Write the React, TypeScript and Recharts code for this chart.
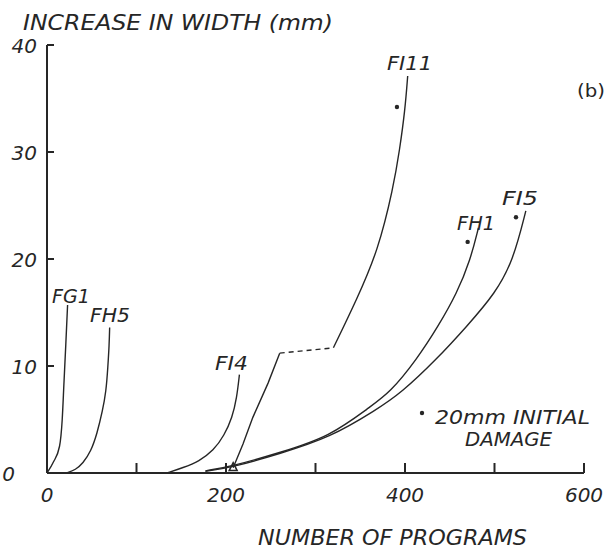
import { ComposedChart, Line, Scatter, XAxis, YAxis } from 'recharts'

// Crack width growth per specimen, x = number of programs, y = increase in width (mm)
const fg1 = [
  { x: 0, y: 0 }, { x: 7, y: 1 }, { x: 14, y: 2.5 }, { x: 17, y: 5 },
  { x: 19, y: 8.5 }, { x: 21, y: 12 }, { x: 23, y: 15.7 },
]
const fh5 = [
  { x: 22, y: 0 }, { x: 32, y: 0.3 }, { x: 40, y: 0.9 }, { x: 49, y: 2 },
  { x: 56, y: 3.7 }, { x: 62, y: 5.8 }, { x: 66, y: 7.6 }, { x: 68, y: 9.9 },
  { x: 69.5, y: 12 }, { x: 70, y: 13.6 },
]
const fi4 = [
  { x: 134, y: 0 }, { x: 152, y: 0.5 }, { x: 170, y: 1.1 }, { x: 186, y: 2.1 },
  { x: 198, y: 3.5 }, { x: 207, y: 5.2 }, { x: 212, y: 7 }, { x: 215, y: 9.2 },
]
// FI11 has a gap (dashed) between its two measured stretches
const fi11Lower = [
  { x: 208, y: 0.5 }, { x: 219, y: 2.7 }, { x: 230, y: 5.2 }, { x: 247, y: 8.4 }, { x: 260, y: 11.2 },
]
const fi11Gap = [{ x: 260, y: 11.2 }, { x: 320, y: 11.7 }]
const fi11Upper = [
  { x: 320, y: 11.7 }, { x: 346, y: 16.2 }, { x: 370, y: 20.8 }, { x: 387, y: 26.7 },
  { x: 394, y: 30.2 }, { x: 400, y: 33.9 }, { x: 403, y: 37.1 },
]
const fh1 = [
  { x: 177, y: 0.2 }, { x: 208, y: 0.65 }, { x: 260, y: 1.9 }, { x: 316, y: 3.4 },
  { x: 361, y: 6.2 }, { x: 383, y: 7.5 }, { x: 413, y: 10.6 }, { x: 437, y: 13.7 },
  { x: 458, y: 16.8 }, { x: 473, y: 19.9 }, { x: 482, y: 22.9 },
]
const fi5 = [
  { x: 177, y: 0.15 }, { x: 208, y: 0.55 }, { x: 260, y: 1.8 }, { x: 316, y: 3.3 },
  { x: 368, y: 5.9 }, { x: 396, y: 7.5 }, { x: 435, y: 10.6 }, { x: 469, y: 13.7 },
  { x: 501, y: 16.8 }, { x: 521, y: 19.9 }, { x: 535, y: 24.5 },
]
// specimens with 20mm initial damage
const initialDamage = [{ x: 391, y: 34.2 }, { x: 470, y: 21.6 }, { x: 524, y: 23.9 }]
const startMarker = [{ x: 208, y: 0.6 }]

const xTicks = [0, 100, 200, 300, 400, 500, 600]
const xLabelled = [0, 200, 400, 600]
const yTicks = [0, 10, 20, 30, 40]

const INK = '#262626'
const FONT = '"DejaVu Sans", sans-serif'

function XTick(props: any) {
  const { x, y, payload } = props
  return (
    <g>
      <line x1={x} y1={y} x2={x} y2={y - 10} stroke={INK} strokeWidth={2} />
      {xLabelled.includes(payload.value) && (
        <text x={x} y={y + 29} textAnchor="middle" fontFamily={FONT} fontStyle="italic" fontSize={20} fill={INK}>
          {payload.value}
        </text>
      )}
    </g>
  )
}

function YTick(props: any) {
  const { x, y, payload } = props
  return (
    <g>
      <line x1={x} y1={y} x2={x + 7} y2={y} stroke={INK} strokeWidth={2} />
      <text
        x={payload.value === 0 ? 15 : x - 10}
        y={y + 8}
        textAnchor="end"
        fontFamily={FONT}
        fontStyle="italic"
        fontSize={20}
        fill={INK}
      >
        {payload.value}
      </text>
    </g>
  )
}

const Dot = (p: any) => <circle cx={p.cx} cy={p.cy} r={2.2} fill={INK} />
const Tri = (p: any) => (
  <polygon points={`${p.cx - 4},${p.cy + 4} ${p.cx + 4},${p.cy + 4} ${p.cx},${p.cy - 4}`} fill="none" stroke={INK} strokeWidth={1.5} />
)

function Lbl({ x, y, w, children }: { x: number; y: number; w: number; children: string }) {
  return (
    <text x={x} y={y} textLength={w} lengthAdjust="spacingAndGlyphs" fontFamily={FONT} fontStyle="italic" fontSize={20} fill={INK}>
      {children}
    </text>
  )
}

export default function App() {
  const line = { type: 'basis' as const, dataKey: 'y', stroke: INK, strokeWidth: 1.4, dot: false, isAnimationActive: false }
  return (
    <div style={{ position: 'absolute', left: 0, top: 0, width: 607, height: 550, background: '#fff' }}>
      <ComposedChart width={607} height={550} margin={{ top: 45, right: 23, bottom: 0, left: 0 }}>
        <XAxis
          type="number"
          dataKey="x"
          domain={[0, 600]}
          ticks={xTicks}
          allowDataOverflow
          tickLine={false}
          tickSize={0}
          tickMargin={0}
          height={77}
          axisLine={{ stroke: INK, strokeWidth: 2 }}
          tick={<XTick />}
        />
        <YAxis
          type="number"
          dataKey="y"
          domain={[0, 40]}
          ticks={yTicks}
          allowDataOverflow
          tickLine={false}
          tickSize={0}
          tickMargin={0}
          width={47}
          axisLine={{ stroke: INK, strokeWidth: 2 }}
          tick={<YTick />}
        />
        <Line {...line} data={fg1} type="monotone" />
        <Line {...line} data={fh5} />
        <Line {...line} data={fi4} />
        <Line {...line} data={fi11Lower} type="linear" />
        <Line {...line} data={fi11Gap} type="linear" strokeDasharray="5 4" />
        <Line {...line} data={fi11Upper} />
        <Line {...line} data={fh1} />
        <Line {...line} data={fi5} />
        <Scatter data={initialDamage} dataKey="y" shape={<Dot />} isAnimationActive={false} />
        <Scatter data={startMarker} dataKey="y" shape={<Tri />} isAnimationActive={false} />
      </ComposedChart>
      <svg width={607} height={550} style={{ position: 'absolute', left: 0, top: 0, pointerEvents: 'none' }}>
        <text x={23} y={30} textLength={310} lengthAdjust="spacingAndGlyphs" fontFamily={FONT} fontStyle="italic" fontSize={22} fill={INK}>
          INCREASE IN WIDTH (mm)
        </text>
        <text x={258} y={545} textLength={269} lengthAdjust="spacingAndGlyphs" fontFamily={FONT} fontStyle="italic" fontSize={22} fill={INK}>
          NUMBER OF PROGRAMS
        </text>
        <Lbl x={52} y={303} w={38}>FG1</Lbl>
        <Lbl x={90} y={322} w={40}>FH5</Lbl>
        <Lbl x={215} y={370} w={33}>FI4</Lbl>
        <Lbl x={387} y={70} w={45}>FI11</Lbl>
        <Lbl x={457} y={230} w={38}>FH1</Lbl>
        <Lbl x={502} y={205} w={36}>FI5</Lbl>
        <text x={577} y={97} textLength={28} lengthAdjust="spacingAndGlyphs" fontFamily={FONT} fontSize={18} fill={INK}>
          (b)
        </text>
        <circle cx={422} cy={413} r={2.2} fill={INK} />
        <Lbl x={435} y={424} w={155}>20mm INITIAL</Lbl>
        <Lbl x={465} y={446} w={87}>DAMAGE</Lbl>
      </svg>
    </div>
  )
}
